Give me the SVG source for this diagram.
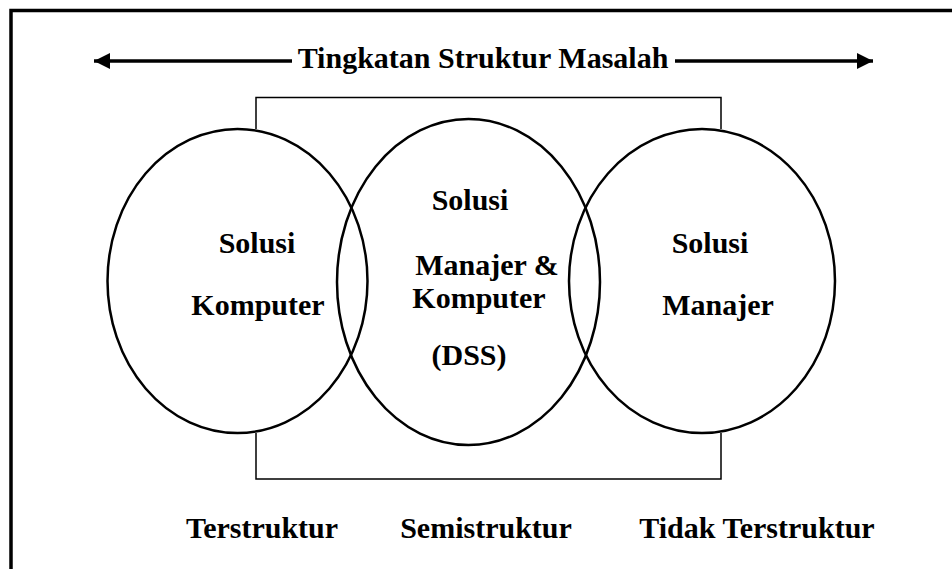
<svg xmlns="http://www.w3.org/2000/svg" width="952" height="569" viewBox="0 0 952 569">
<defs>
<style>
text{font-family:"Liberation Serif","Times New Roman",serif;font-weight:bold;font-size:30px;fill:#000;text-anchor:middle}
.c{fill:none;stroke:#000;stroke-width:2.5}
.r{fill:none;stroke:#000;stroke-width:1.5}
</style>
<marker id="ah" viewBox="0 0 16 16" refX="16" refY="8" markerWidth="16" markerHeight="16" markerUnits="userSpaceOnUse" orient="auto">
<path d="M0,0 L16,8 L0,16 z" fill="#000"/>
</marker>
</defs>
<rect width="952" height="569" fill="#fff"/>
<path d="M11,575 V10.5 H960" fill="none" stroke="#000" stroke-width="3.5"/>
<g id="connectors">
<line x1="292" y1="61" x2="94" y2="61" stroke="#000" stroke-width="3.5" marker-end="url(#ah)"/>
<line x1="675" y1="61" x2="873" y2="61" stroke="#000" stroke-width="3.5" marker-end="url(#ah)"/>
<path class="r" d="M256,129 V97.5 H721 V129"/>
<path class="r" d="M256,433 V479 H721 V433"/>
</g>
<g id="title"><text x="483" y="68">Tingkatan Struktur Masalah</text></g>
<g id="left">
<ellipse class="c" cx="237.5" cy="281" rx="130" ry="152"/>
<text x="257" y="253">Solusi</text>
<text x="258" y="315">Komputer</text>
</g>
<g id="middle">
<ellipse class="c" cx="468.5" cy="282" rx="131.5" ry="163"/>
<text x="470" y="210">Solusi</text>
<text x="487" y="275">Manajer &amp;</text>
<text x="479" y="308">Komputer</text>
<text x="469" y="365">(DSS)</text>
</g>
<g id="right">
<ellipse class="c" cx="702" cy="281" rx="133" ry="152"/>
<text x="710" y="253">Solusi</text>
<text x="718" y="315">Manajer</text>
</g>
<g id="labels">
<text x="262" y="538">Terstruktur</text>
<text x="486" y="538">Semistruktur</text>
<text x="757" y="538">Tidak Terstruktur</text>
</g>
</svg>
